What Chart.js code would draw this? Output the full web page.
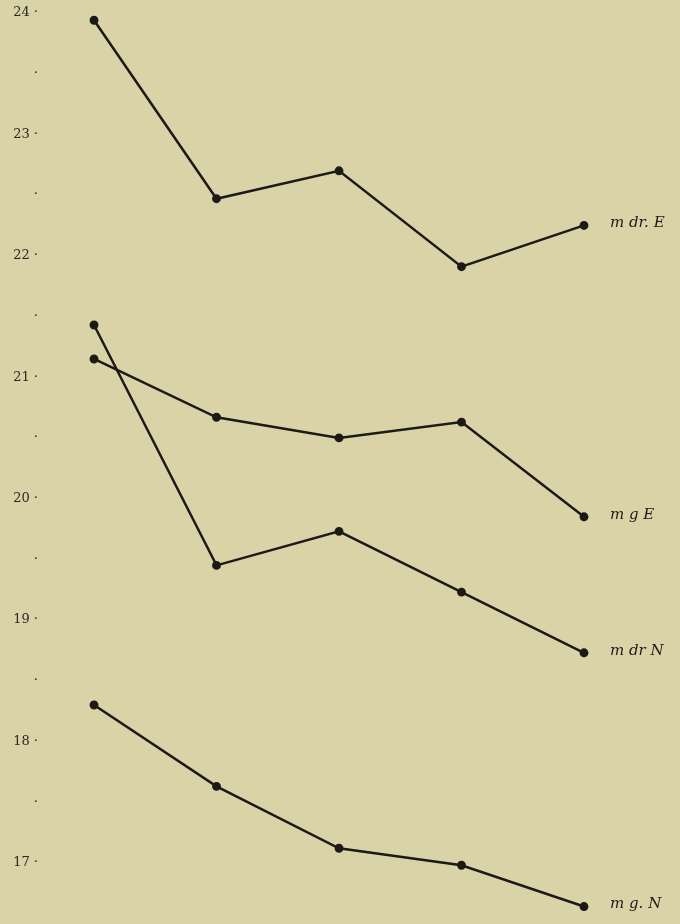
<!DOCTYPE html>
<html>
<head>
<meta charset="utf-8">
<script src="https://cdn.jsdelivr.net/npm/chart.js@4"></script>
<style>
  body { margin: 0; background: #dbd3a8; }
  #wrap { width: 680px; height: 924px; position: relative; }
</style>
</head>
<body>
<div id="wrap"><canvas id="chart"></canvas></div>
<script>
// data
const positions = [1, 2, 3, 4, 5];
const seriesNames = ['m dr. E', 'm g E', 'm dr N', 'm g. N'];
const mDrE = [23.94, 22.47, 22.70, 21.91, 22.25];
const mGE = [21.15, 20.67, 20.50, 20.63, 19.85];
const mDrN = [21.43, 19.45, 19.73, 19.23, 18.73];
const mGN = [18.30, 17.63, 17.12, 16.98, 16.64];
const tickValues = [17, 17.5, 18, 18.5, 19, 19.5, 20, 20.5, 21, 21.5, 22, 22.5, 23, 23.5, 24];
const tickLabels = ['17 ·', '·', '18 ·', '·', '19 ·', '·', '20 ·', '·', '21 ·', '·', '22 ·', '·', '23 ·', '·', '24 ·'];

const ink = '#1c1a16';

function makeSet(name, values) {
  return {
    label: name,
    data: values.map((v, i) => ({ x: positions[i], y: v })),
    borderColor: ink,
    backgroundColor: ink,
    borderWidth: 2.5,
    pointRadius: 3.2,
    pointHoverRadius: 3.2,
    tension: 0,
    clip: false
  };
}

// names written after the last point of each line
const endLabels = {
  id: 'endLabels',
  afterDatasetsDraw(chart) {
    const c = chart.ctx;
    c.save();
    c.fillStyle = ink;
    c.font = 'italic 15px "DejaVu Serif"';
    c.textAlign = 'left';
    c.textBaseline = 'middle';
    chart.data.datasets.forEach((ds, i) => {
      const pts = chart.getDatasetMeta(i).data;
      const last = pts[pts.length - 1];
      c.fillText(ds.label, last.x + 26, last.y - 2);
    });
    c.restore();
  }
};

const ctx = document.getElementById('chart').getContext('2d');
new Chart(ctx, {
  type: 'line',
  data: {
    datasets: [
      makeSet(seriesNames[0], mDrE),
      makeSet(seriesNames[1], mGE),
      makeSet(seriesNames[2], mDrN),
      makeSet(seriesNames[3], mGN)
    ]
  },
  options: {
    responsive: true,
    maintainAspectRatio: false,
    animation: false,
    layout: { padding: { left: 0, right: 96, top: 12, bottom: 12 } },
    plugins: {
      legend: { display: false },
      tooltip: { enabled: false }
    },
    scales: {
      x: { type: 'linear', display: false, min: 0.559, max: 5 },
      y: {
        min: 16.595,
        max: 24.008,
        grid: { display: false, drawTicks: false },
        border: { display: false },
        afterFit(scale) { scale.width = 40; },
        afterBuildTicks(scale) {
          scale.ticks = tickValues.map(v => ({ value: v }));
        },
        ticks: {
          padding: 2,
          color: '#2a2822',
          font: { family: 'DejaVu Serif', size: 13 },
          callback: (v) => tickLabels[tickValues.indexOf(v)] || ''
        }
      }
    }
  },
  plugins: [endLabels]
});
</script>
</body>
</html>
